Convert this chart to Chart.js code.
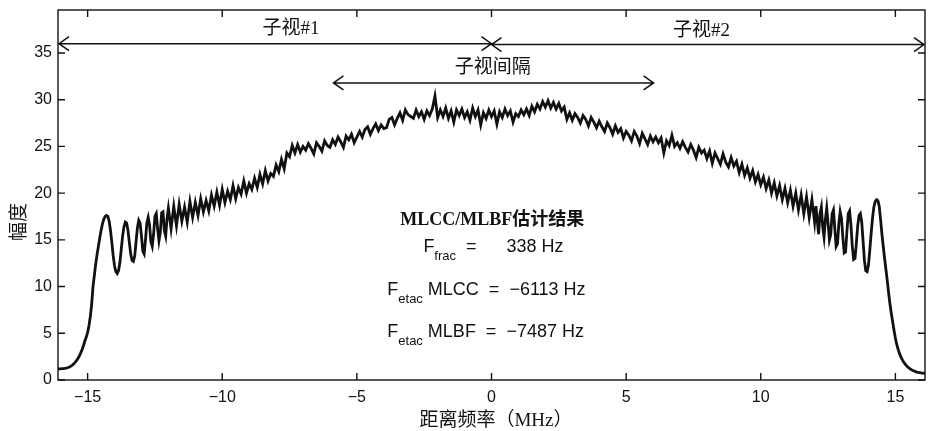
<!DOCTYPE html>
<html>
<head>
<meta charset="utf-8">
<script src="https://cdn.jsdelivr.net/npm/chart.js@4"></script>
<style>
  html, body { margin: 0; padding: 0; background: #fff; }
  #wrap { width: 928px; height: 431px; }
</style>
</head>
<body>
<div id="wrap"><canvas id="spectrum" width="928" height="431"></canvas></div>
<script>
// low band edge (MHz) and amplitude
const lowEdgeFreq = [-16.1,
  -16.00, -15.95, -15.90, -15.85, -15.80, -15.75, -15.70, -15.65, -15.60, -15.55,
  -15.50, -15.45, -15.40, -15.35, -15.30, -15.25, -15.20, -15.15, -15.10, -15.05,
  -15.00, -14.95, -14.90, -14.85, -14.80, -14.75, -14.70, -14.65, -14.60, -14.55,
  -14.50, -14.45, -14.40, -14.35, -14.30, -14.25, -14.20, -14.15, -14.10, -14.05,
  -14.00, -13.95, -13.90, -13.85, -13.80, -13.75, -13.70, -13.65, -13.60, -13.55,
  -13.50, -13.45, -13.40, -13.35, -13.30, -13.25, -13.20, -13.15, -13.10, -13.05,
  -13.00, -12.95, -12.90, -12.85, -12.80, -12.75, -12.70, -12.65, -12.60, -12.55,
  -12.50, -12.45, -12.40, -12.35, -12.30, -12.25, -12.20, -12.15, -12.10, -12.05,
  -12.00];
const lowEdgeAmp = [1.20,
  1.20, 1.21, 1.22, 1.24, 1.27, 1.31, 1.36, 1.43, 1.52, 1.63,
  1.77, 1.93, 2.12, 2.35, 2.62, 2.93, 3.30, 3.72, 4.20, 4.60,
  5.10, 5.80, 6.80, 8.10, 10.0, 11.2, 12.4, 13.4, 14.3, 15.2,
  16.0, 16.7, 17.2, 17.5, 17.6, 17.5, 17.0, 16.0, 14.7, 13.3,
  12.2, 11.6, 11.4, 11.7, 12.6, 14.0, 15.4, 16.4, 16.9, 16.8,
  16.0, 14.7, 13.5, 12.8, 12.7, 13.3, 14.8, 16.3, 17.1, 16.8,
  15.4, 13.8, 13.5, 15.0, 16.8, 17.4, 16.6, 14.8, 14.3, 15.6,
  17.5, 17.8, 16.2, 14.9, 15.8, 17.9, 18.0, 16.0, 15.4, 17.3,
  18.4];

// main band
const bandFreq = [
  -11.9, -11.8, -11.7, -11.6, -11.5, -11.4, -11.3, -11.2, -11.1, -11.0,
  -10.9, -10.8, -10.7, -10.6, -10.5, -10.4, -10.3, -10.2, -10.1, -10.0,
  -9.9, -9.8, -9.7, -9.6, -9.5, -9.4, -9.3, -9.2, -9.1, -9.0,
  -8.9, -8.8, -8.7, -8.6, -8.5, -8.4, -8.3, -8.2, -8.1, -8.0,
  -7.9, -7.8, -7.7, -7.6, -7.5, -7.4, -7.3, -7.2, -7.1, -7.0,
  -6.9, -6.8, -6.7, -6.6, -6.5, -6.4, -6.3, -6.2, -6.1, -6.0,
  -5.9, -5.8, -5.7, -5.6, -5.5, -5.4, -5.3, -5.2, -5.1, -5.0,
  -4.9, -4.8, -4.7, -4.6, -4.5, -4.4, -4.3, -4.2, -4.1, -4.0,
  -3.9, -3.8, -3.7, -3.6, -3.5, -3.4, -3.3, -3.2, -3.1, -3.0,
  -2.9, -2.8, -2.7, -2.6, -2.5, -2.4, -2.3, -2.2, -2.1, -2.0,
  -1.9, -1.8, -1.7, -1.6, -1.5, -1.4, -1.3, -1.2, -1.1, -1.0,
  -0.9, -0.8, -0.7, -0.6, -0.5, -0.4, -0.3, -0.2, -0.1, 0.0,
  0.1, 0.2, 0.3, 0.4, 0.5, 0.6, 0.7, 0.8, 0.9, 1.0,
  1.1, 1.2, 1.3, 1.4, 1.5, 1.6, 1.7, 1.8, 1.9, 2.0,
  2.1, 2.2, 2.3, 2.4, 2.5, 2.6, 2.7, 2.8, 2.9, 3.0,
  3.1, 3.2, 3.3, 3.4, 3.5, 3.6, 3.7, 3.8, 3.9, 4.0,
  4.1, 4.2, 4.3, 4.4, 4.5, 4.6, 4.7, 4.8, 4.9, 5.0,
  5.1, 5.2, 5.3, 5.4, 5.5, 5.6, 5.7, 5.8, 5.9, 6.0,
  6.1, 6.2, 6.3, 6.4, 6.5, 6.6, 6.7, 6.8, 6.9, 7.0,
  7.1, 7.2, 7.3, 7.4, 7.5, 7.6, 7.7, 7.8, 7.9, 8.0,
  8.1, 8.2, 8.3, 8.4, 8.5, 8.6, 8.7, 8.8, 8.9, 9.0,
  9.1, 9.2, 9.3, 9.4, 9.5, 9.6, 9.7, 9.8, 9.9, 10.0,
  10.1, 10.2, 10.3, 10.4, 10.5, 10.6, 10.7, 10.8, 10.9, 11.0,
  11.1, 11.2, 11.3, 11.4, 11.5, 11.6, 11.7, 11.8, 11.9];
const bandAmp = [
  16.2, 18.6, 16.5, 18.8, 17.0, 18.5, 16.9, 19.1, 17.4, 19.0,
  17.6, 19.4, 18.0, 19.2, 18.1, 19.8, 18.6, 20.1, 18.7, 20.4,
  19.0, 20.2, 19.3, 20.8, 19.4, 20.6, 19.9, 21.3, 20.0, 21.0,
  20.4, 21.6, 20.6, 22.0, 21.0, 22.4, 21.3, 22.1, 21.8, 23.0,
  22.3, 23.6, 22.6, 24.3, 23.9, 25.1, 24.3, 25.2, 24.4, 25.0,
  24.6, 25.3, 24.8, 24.2, 25.4, 25.0, 24.5, 25.6, 25.1, 24.9,
  25.7, 25.2, 26.0, 25.5, 24.9, 26.1, 25.7, 26.3, 25.4, 26.0,
  26.6, 26.0, 26.8, 27.1, 26.3, 26.9, 27.4, 26.7, 27.3, 26.9,
  27.0, 27.9, 28.1, 27.3, 28.0, 28.6, 27.8, 28.9, 28.4, 28.2,
  28.0, 28.9, 28.2, 28.7, 27.9, 28.8, 28.3, 29.0, 30.4, 28.1,
  28.9, 28.2, 29.1, 28.0, 28.8, 27.6, 28.9, 28.3, 29.0, 28.1,
  28.7, 27.8, 29.1, 28.2, 28.9, 27.3, 28.6, 28.0, 28.9, 28.2,
  28.8, 27.4, 28.7, 28.1, 29.0, 28.3, 28.8, 27.6, 28.5, 28.2,
  28.9, 28.4, 29.0, 28.3, 29.3, 28.7, 29.5, 29.0, 29.8, 29.2,
  29.9, 29.1, 29.7, 29.0, 29.6, 28.8, 29.2, 27.9, 28.6, 27.8,
  28.5, 28.1, 27.5, 28.3, 27.9, 27.2, 28.1, 27.6, 27.0, 27.7,
  27.1, 26.6, 27.5, 27.0, 26.3, 27.2, 26.5, 26.9, 25.9, 26.6,
  26.2, 25.6, 26.6, 26.1, 25.3, 26.4, 25.8, 25.2, 26.1, 25.5,
  26.0, 25.4, 25.9, 24.3, 25.6, 25.1, 26.2, 25.0, 25.4, 24.8,
  25.5, 24.9, 24.4, 25.2, 24.6, 23.8, 24.9, 24.3, 24.6, 23.7,
  24.5, 23.2, 24.3, 23.7, 23.1, 24.2, 23.3, 22.8, 23.8, 22.9,
  23.4, 22.2, 23.1, 21.9, 22.7, 21.6, 22.4, 21.2, 22.0, 20.9,
  21.7, 20.5, 21.4, 20.0, 21.1, 19.7, 20.8, 19.3, 20.5, 19.0,
  20.3, 18.6, 20.0, 18.2, 19.8, 17.8, 19.6, 17.4, 19.3];

// high band edge
const highEdgeFreq = [
  12.00, 12.05, 12.10, 12.15, 12.20, 12.25, 12.30, 12.35, 12.40, 12.45,
  12.50, 12.55, 12.60, 12.65, 12.70, 12.75, 12.80, 12.85, 12.90, 12.95,
  13.00, 13.05, 13.10, 13.15, 13.20, 13.25, 13.30, 13.35, 13.40, 13.45,
  13.50, 13.55, 13.60, 13.65, 13.70, 13.75, 13.80, 13.85, 13.90, 13.95,
  14.00, 14.05, 14.10, 14.15, 14.20, 14.25, 14.30, 14.35, 14.40, 14.45,
  14.50, 14.55, 14.60, 14.65, 14.70, 14.75, 14.80, 14.85, 14.90, 14.95,
  15.00, 15.05, 15.10, 15.15, 15.20, 15.25, 15.30, 15.35, 15.40, 15.45,
  15.50, 15.55, 15.60, 15.65, 15.70, 15.75, 15.80, 15.85, 15.90, 15.95,
  16.00, 16.1];
const highEdgeAmp = [
  16.9, 18.6, 17.0, 15.6, 17.8, 18.5, 16.4, 15.3, 17.2, 18.4,
  16.8, 15.0, 15.6, 17.8, 18.2, 16.2, 14.3, 14.6, 16.7, 18.0,
  17.3, 15.2, 13.6, 13.7, 15.9, 17.8, 18.1, 16.6, 14.3, 12.9,
  13.0, 14.6, 16.5, 17.6, 17.8, 16.9, 14.9, 12.8, 11.7, 11.6,
  12.3, 13.9, 15.7, 17.3, 18.5, 19.1, 19.3, 19.2, 18.6, 17.2,
  15.6, 14.3, 13.0, 11.8, 10.6, 9.3, 8.1, 7.1, 6.2, 5.3,
  4.5, 3.8, 3.3, 2.85, 2.5, 2.2, 1.95, 1.75, 1.58, 1.42,
  1.30, 1.19, 1.10, 1.02, 0.96, 0.90, 0.85, 0.81, 0.78, 0.75,
  0.73, 0.72];

const xTicks = [-15, -10, -5, 0, 5, 10, 15];
const yTicks = [0, 5, 10, 15, 20, 25, 30, 35];

const freqMHz = lowEdgeFreq.concat(bandFreq, highEdgeFreq);
const amplitude = lowEdgeAmp.concat(bandAmp, highEdgeAmp);
const points = freqMHz.map((f, i) => ({x: f, y: amplitude[i]}));

// sub-look arrows: [from, to, level]
const look1Span = [-16.1, 0, 36.0];
const look2Span = [0, 16.1, 35.9];
const gapSpan = [-5.87, 6.02, 31.8];

const cjkFont = '19px "Liberation Serif", "Noto Sans CJK SC", serif';
const titleFont = 'bold 18px "Liberation Serif", "Noto Sans CJK SC", serif';
const numFont = '18px "Liberation Sans", Arial, sans-serif';
const subFont = '13px "Liberation Sans", Arial, sans-serif';

function minus(v){
    return String(v).replace('-', '\u2212');
}

function drawArrow(ctx, x1, x2, y){
    const h = 10, w = 7;
    ctx.beginPath();
    ctx.moveTo(x1, y); ctx.lineTo(x2, y);
    ctx.moveTo(x1 + h, y - w); ctx.lineTo(x1, y); ctx.lineTo(x1 + h, y + w);
    ctx.moveTo(x2 - h, y - w); ctx.lineTo(x2, y); ctx.lineTo(x2 - h, y + w);
    ctx.stroke();
}

// draws text parts left to right, each {t, font, dy}
function drawRow(ctx, x, y, parts){
    ctx.textAlign = "left";
    ctx.textBaseline = "alphabetic";
    parts.forEach(p => {
        ctx.font = p.font;
        ctx.fillText(p.t, x, y + (p.dy || 0));
        x += ctx.measureText(p.t).width;
    });
}

const frame = {
    id: "frame",
    afterDraw(chart){
        const ctx = chart.ctx;
        const {left, right, top, bottom} = chart.chartArea;
        const xs = chart.scales.x, ys = chart.scales.y;
        ctx.save();
        ctx.strokeStyle = "#111";
        ctx.fillStyle = "#111";
        ctx.lineWidth = 1.4;
        ctx.strokeRect(left, top, right - left, bottom - top);

        // inward tick marks on all four sides
        const tl = 7;
        ctx.beginPath();
        xTicks.forEach(v => {
            const px = xs.getPixelForValue(v);
            ctx.moveTo(px, bottom); ctx.lineTo(px, bottom - tl);
            ctx.moveTo(px, top); ctx.lineTo(px, top + tl);
        });
        yTicks.forEach(v => {
            const py = ys.getPixelForValue(v);
            ctx.moveTo(left, py); ctx.lineTo(left + tl, py);
            ctx.moveTo(right, py); ctx.lineTo(right - tl, py);
        });
        ctx.stroke();

        // sub-look arrows
        ctx.lineWidth = 1.5;
        drawArrow(ctx, xs.getPixelForValue(look1Span[0]) + 1, xs.getPixelForValue(look1Span[1]), ys.getPixelForValue(look1Span[2]));
        drawArrow(ctx, xs.getPixelForValue(look2Span[0]), xs.getPixelForValue(look2Span[1]) - 1, ys.getPixelForValue(look2Span[2]));
        drawArrow(ctx, xs.getPixelForValue(gapSpan[0]), xs.getPixelForValue(gapSpan[1]), ys.getPixelForValue(gapSpan[2]));

        ctx.font = cjkFont;
        ctx.textAlign = "center";
        ctx.textBaseline = "middle";
        ctx.fillText("子视#1", xs.getPixelForValue(-7.45), ys.getPixelForValue(37.6));
        ctx.fillText("子视#2", xs.getPixelForValue(7.8), ys.getPixelForValue(37.4));
        ctx.fillText("子视间隔", xs.getPixelForValue(0.05), ys.getPixelForValue(33.4));
        ctx.font = titleFont;
        ctx.fillText("MLCC/MLBF估计结果", xs.getPixelForValue(0.03), ys.getPixelForValue(17.1));

        // estimation results
        drawRow(ctx, xs.getPixelForValue(-2.53), ys.getPixelForValue(13.7), [
            {t: "F", font: numFont},
            {t: "frac", font: subFont, dy: 8},
            {t: "  =      338 Hz", font: numFont}
        ]);
        drawRow(ctx, xs.getPixelForValue(-3.87), ys.getPixelForValue(9.1), [
            {t: "F", font: numFont},
            {t: "etac", font: subFont, dy: 8},
            {t: " MLCC  =  \u22126113 Hz", font: numFont}
        ]);
        drawRow(ctx, xs.getPixelForValue(-3.87), ys.getPixelForValue(4.6), [
            {t: "F", font: numFont},
            {t: "etac", font: subFont, dy: 8},
            {t: " MLBF  =  \u22127487 Hz", font: numFont}
        ]);

        // axis titles
        ctx.font = cjkFont;
        ctx.textAlign = "center";
        ctx.textBaseline = "middle";
        ctx.fillText("距离频率（MHz）", 496, 421);
        ctx.save();
        ctx.translate(20, 222);
        ctx.rotate(-Math.PI / 2);
        ctx.fillText("幅度", 0, 0);
        ctx.restore();
        ctx.restore();
    }
};

new Chart(document.getElementById("spectrum"), {
    type: "line",
    data: {
        datasets: [{
            data: points,
            borderColor: "#111",
            borderWidth: 2.8,
            pointRadius: 0,
            tension: 0,
            fill: false
        }]
    },
    options: {
        responsive: false,
        animation: false,
        layout: { padding: { left: 0, right: 3, top: 10, bottom: 0 } },
        plugins: { legend: { display: false }, tooltip: { enabled: false } },
        scales: {
            x: {
                type: "linear",
                min: -16.1,
                max: 16.1,
                grid: { display: false, drawTicks: false },
                border: { display: false },
                afterFit: s => { s.height = 51; s.paddingLeft = 0; s.paddingRight = 0; },
                afterBuildTicks: s => { s.ticks = xTicks.map(v => ({value: v})); },
                ticks: {
                    padding: 8,
                    color: "#111",
                    font: { family: '"Liberation Sans", Arial, sans-serif', size: 16 },
                    callback: v => minus(v)
                }
            },
            y: {
                min: 0,
                max: 39.6,
                grid: { display: false, drawTicks: false },
                border: { display: false },
                afterFit: s => { s.width = 58; s.paddingTop = 0; s.paddingBottom = 0; },
                afterBuildTicks: s => { s.ticks = yTicks.map(v => ({value: v})); },
                ticks: {
                    padding: 6,
                    color: "#111",
                    font: { family: '"Liberation Sans", Arial, sans-serif', size: 16 },
                    callback: v => v
                }
            }
        }
    },
    plugins: [frame]
});
</script>
</body>
</html>
